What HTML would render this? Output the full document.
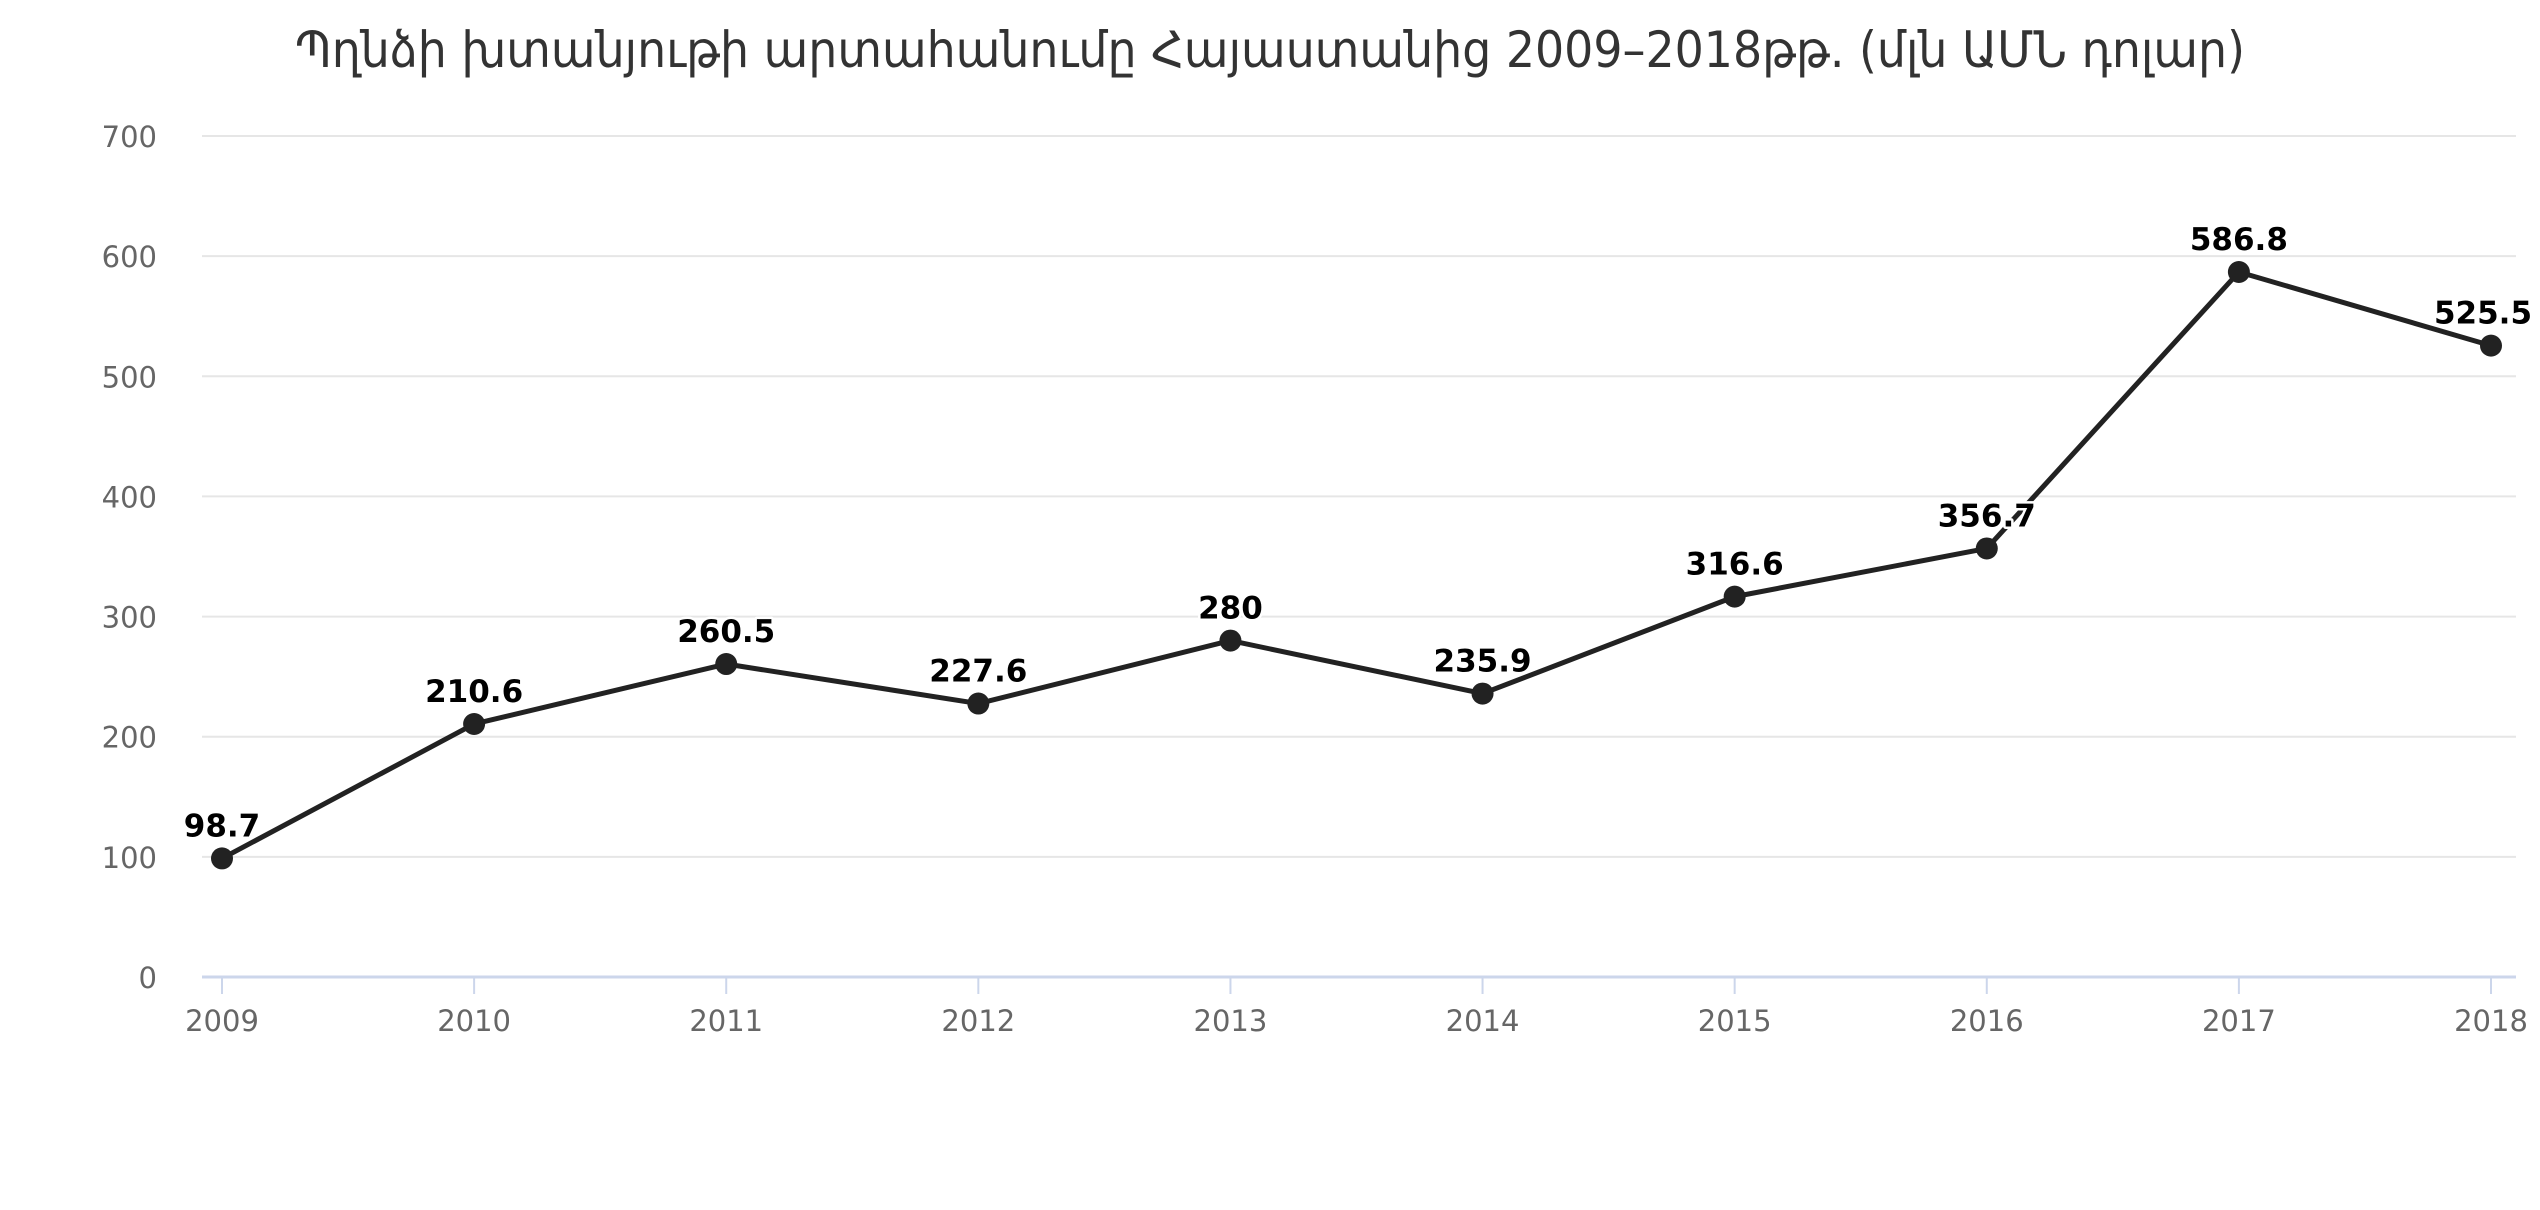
<!DOCTYPE html>
<html><head><meta charset="utf-8"><style>
html,body{margin:0;padding:0;background:#fff;}
svg{display:block;}
</style></head><body>
<svg id="chart" width="2540" height="1210" viewBox="0 0 2540 1210" xmlns="http://www.w3.org/2000/svg">
<rect width="2540" height="1210" fill="#fff"/>
<text x="1270" y="67" text-anchor="middle" textLength="1950" lengthAdjust="spacingAndGlyphs" font-family="'DejaVu Sans','Liberation Sans',sans-serif" font-size="50" fill="#333">Պղնձի խտանյութի արտահանումը Հայաստանից 2009–2018թթ. (մլն ԱՄՆ դոլար)</text>
<g id="grid"></g><g id="axes"></g><g id="series"></g><g id="labels"></g>
</svg>
<script>
const categories = ["2009","2010","2011","2012","2013","2014","2015","2016","2017","2018"];
const values = [98.7,210.6,260.5,227.6,280,235.9,316.6,356.7,586.8,525.5];
const valueLabels = ["98.7","210.6","260.5","227.6","280","235.9","316.6","356.7","586.8","525.5"];
const yTicks = [0,100,200,300,400,500,600,700];

const NS="http://www.w3.org/2000/svg";
const plotL=202, plotR=2516, y0=977, yTop=136, yMax=700;
const x0=222, x1=2491;
function xPos(i){return x0+(x1-x0)*i/(categories.length-1);}
function yPos(v){return y0-(y0-yTop)*v/yMax;}
function mk(tag,attrs,parent){const e=document.createElementNS(NS,tag);for(const k in attrs)e.setAttribute(k,attrs[k]);parent.appendChild(e);return e;}
const grid=document.getElementById('grid'),axes=document.getElementById('axes'),series=document.getElementById('series'),labels=document.getElementById('labels');

yTicks.forEach(t=>{
  if(t>0){const l=mk('line',{x1:plotL,x2:plotR,y1:yPos(t),y2:yPos(t),stroke:'#e6e6e6','stroke-width':2},grid);
  
  }
  const tx=mk('text',{x:157,y:yPos(t)+11,'text-anchor':'end','font-family':"'DejaVu Sans','Liberation Sans',sans-serif",'font-size':29,fill:'#666'},axes);
  tx.textContent=t;
  
  
});
const ax=mk('line',{x1:plotL,x2:plotR,y1:y0,y2:y0,stroke:'#ccd6eb','stroke-width':3},axes);


categories.forEach((c,i)=>{
  const tk=mk('line',{x1:xPos(i),x2:xPos(i),y1:y0,y2:y0+17,stroke:'#ccd6eb','stroke-width':2},axes);
  
  
  const tx=mk('text',{x:xPos(i),y:1031,'text-anchor':'middle','font-family':"'DejaVu Sans','Liberation Sans',sans-serif",'font-size':29,fill:'#666'},axes);
  tx.textContent=c;
  
  
});
const pts=values.map((v,i)=>xPos(i)+','+yPos(v)).join(' ');
const line=mk('polyline',{points:pts,fill:'none',stroke:'#222','stroke-width':5,'stroke-linejoin':'round'},series);


values.forEach((v,i)=>{
  const c=mk('circle',{cx:xPos(i),cy:yPos(v),r:11,fill:'#222'},series);
  
  
  const t=mk('text',{x:xPos(i)+(i===categories.length-1?-8:0),y:yPos(v)-22,'text-anchor':'middle','font-family':"'DejaVu Sans','Liberation Sans',sans-serif",'font-size':31,'font-weight':'bold',fill:'#000',stroke:'#fff','stroke-width':5,'paint-order':'stroke','stroke-linejoin':'round'},labels);
  t.textContent=valueLabels[i];
  
  
});
</script>
</body></html>
